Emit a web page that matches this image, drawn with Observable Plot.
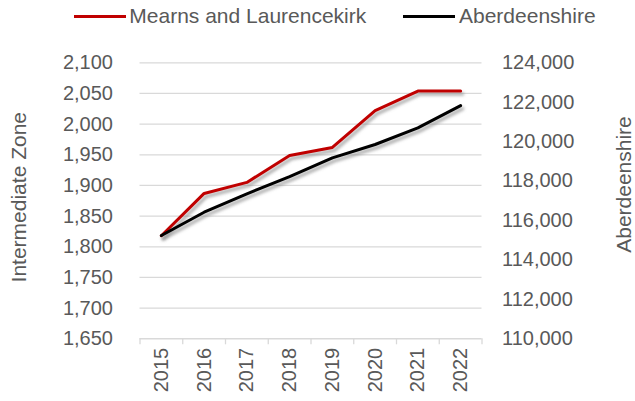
<!DOCTYPE html>
<html><head><meta charset="utf-8">
<script src="https://cdn.jsdelivr.net/npm/d3@7"></script>
<script src="https://cdn.jsdelivr.net/npm/@observablehq/plot@0.6"></script>
<style>
body{margin:0;background:#fff;font-family:"Liberation Sans",Arial,sans-serif;}
#legend{position:relative;height:36px;width:635px;}
.sw{position:absolute;height:3px;}
.lt{position:absolute;font-size:21px;line-height:24px;color:#595959;white-space:nowrap;}
</style></head><body><div id="legend"></div><div id="chart"></div>
<script>
const years=[2015,2016,2017,2018,2019,2020,2021,2022];
const mearns=[1818,1887,1905,1949,1962,2022,2054,2054];
const aberdeenshire=[115240,116420,117355,118230,119180,119856,120700,121830];
const leftTicks=[1650,1700,1750,1800,1850,1900,1950,2000,2050,2100];
const rightTicks=[110000,112000,114000,116000,118000,120000,122000,124000];
const seriesNames=["Mearns and Laurencekirk","Aberdeenshire"];
const seriesColors=["#C00000","#000000"];

// legend
const leg=document.getElementById("legend");
const legPos=[{sw:74,tx:129.3},{sw:403,tx:459}];
seriesNames.forEach((n,i)=>{
  const s=document.createElement("div");s.className="sw";
  s.style.left=legPos[i].sw+"px";s.style.top="14.5px";s.style.width="52px";s.style.background=seriesColors[i];
  leg.appendChild(s);
  const t=document.createElement("div");t.className="lt";
  t.style.left=legPos[i].tx+"px";t.style.top="4px";t.textContent=n;
  leg.appendChild(t);
});

const fmt=d3.format(",");
const toLeft=v=>1650+(v-110000)*450/14000;
const fromLeft=v=>110000+(v-1650)*14000/450;
const dataM=years.map((y,i)=>({year:y,value:mearns[i]}));
const dataA=years.map((y,i)=>({year:y,value:toLeft(aberdeenshire[i])}));
const bounds=[2014.5,2015.5,2016.5,2017.5,2018.5,2019.5,2020.5,2021.5,2022.5];
const shadowColor="#808080";

const plot=Plot.plot({
  width:635,height:365,
  marginTop:26.3,marginBottom:62.7,marginLeft:139.5,marginRight:153.5,
  style:{fontFamily:'"Liberation Sans",Arial,sans-serif',fontSize:"20px",color:"#595959",background:"transparent",overflow:"visible"},
  x:{type:"linear",domain:[2014.5,2022.5]},
  y:{domain:[1650,2100]},
  marks:[
    Plot.ruleY(leftTicks.slice(1),{stroke:"#d9d9d9",strokeWidth:1.3}),
    Plot.ruleY([1650],{stroke:"#d9d9d9",strokeWidth:1.5}),
    Plot.axisX(bounds,{tickSize:6,stroke:"#d9d9d9",strokeWidth:1.3,tickFormat:()=>"",label:null}),
    Plot.axisX(years,{tickSize:0,tickRotate:-90,tickPadding:9,tickFormat:d=>String(d),fill:"#595959",label:null,fontSize:20}),
    Plot.axisY(leftTicks,{anchor:"left",tickSize:0,tickPadding:27,tickFormat:fmt,label:null,fill:"#595959",fontSize:20}),
    Plot.axisY(rightTicks.map(toLeft),{anchor:"right",tickSize:0,tickPadding:20,tickFormat:d=>fmt(Math.round(fromLeft(d)/1000)*1000),label:null,fill:"#595959",fontSize:20}),
    Plot.text(["Intermediate Zone"],{text:d=>d,frameAnchor:"left",textAnchor:"middle",dx:-120.5,dy:-3.6,rotate:-90,fontSize:21,fill:"#595959"}),
    Plot.text(["Aberdeenshire"],{text:d=>d,frameAnchor:"right",textAnchor:"middle",dx:142.5,dy:-16.3,rotate:-90,fontSize:21,fill:"#595959"}),
    Plot.line(dataM,{x:"year",y:"value",stroke:shadowColor,strokeWidth:3.5,strokeOpacity:0.6,dx:2,dy:3}),
    Plot.line(dataM,{x:"year",y:"value",stroke:seriesColors[0],strokeWidth:3}),
    Plot.line(dataA,{x:"year",y:"value",stroke:shadowColor,strokeWidth:3.5,strokeOpacity:0.6,dx:2,dy:3}),
    Plot.line(dataA,{x:"year",y:"value",stroke:seriesColors[1],strokeWidth:3})
  ]
});
document.getElementById("chart").appendChild(plot);
const svg=d3.select(plot);
svg.insert("defs",":first-child").append("filter").attr("id","shblur").attr("x","-10%").attr("y","-10%").attr("width","120%").attr("height","120%")
  .append("feGaussianBlur").attr("stdDeviation",1.8);
svg.selectAll('g[aria-label="line"]').filter(function(){return this.getAttribute("stroke")===shadowColor;}).attr("filter","url(#shblur)");
</script></body></html>
